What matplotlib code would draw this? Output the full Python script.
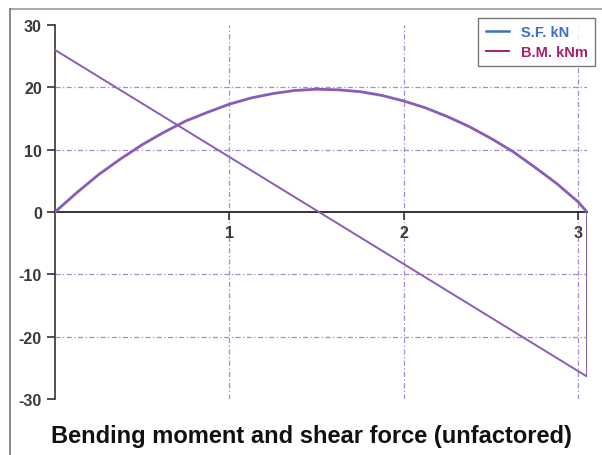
import numpy as np
import matplotlib.pyplot as plt
from matplotlib.lines import Line2D

# shear force (kN) - straight line then drop back to zero at the support
sf_x = [0.0, 3.05, 3.05]
sf_v = [26.0, -26.4, 0.0]

# bending moment (kNm)
bm_x = [0.0, 0.125, 0.25, 0.375, 0.5, 0.625, 0.75, 0.875, 1.0, 1.125, 1.25, 1.375,
        1.5, 1.625, 1.75, 1.875, 2.0, 2.125, 2.25, 2.375, 2.5, 2.625, 2.75, 2.875,
        3.0, 3.05]
bm_v = [0.0, 3.1, 6.0, 8.5, 10.8, 12.8, 14.6, 16.0, 17.3, 18.3, 19.0, 19.5,
        19.7, 19.6, 19.3, 18.7, 17.8, 16.7, 15.3, 13.7, 11.8, 9.7, 7.2, 4.6,
        1.6, 0.0]

xticks = [1, 2, 3]
yticks = [-30, -20, -10, 0, 10, 20, 30]
grid_x = [1, 2, 3]
grid_y = [-20, -10, 10, 20]

line_col = '#8a5cb8'
grid_col = '#a58ad0'

plt.rcParams['font.family'] = ['Liberation Sans', 'DejaVu Sans']

fig = plt.figure(figsize=(6.02, 4.56), dpi=100)
ax = fig.add_axes([55/602, 1-400/456, 532/602, 374/456])

for gx in grid_x:
    ax.axvline(gx, color=grid_col, lw=0.9, ls=(0, (4, 2, 1, 2)), zorder=1)
for gy in grid_y:
    ax.axhline(gy, color=grid_col, lw=0.9, ls=(0, (4, 2, 1, 2)), zorder=1)

ax.plot(bm_x, bm_v, color=line_col, lw=2.0, zorder=3)
ax.plot(sf_x, sf_v, color=line_col, lw=1.4, zorder=3)

ax.set_xlim(0, 3.05)
ax.set_ylim(-30, 30)
ax.spines['top'].set_visible(False)
ax.spines['right'].set_visible(False)
ax.spines['bottom'].set_position(('data', 0))
ax.spines['bottom'].set_color('#333333')
ax.spines['left'].set_color('#333333')
ax.spines['bottom'].set_linewidth(1.4)
ax.spines['left'].set_linewidth(1.2)

ax.set_xticks(xticks)
ax.set_xticklabels([str(t) for t in xticks])
ax.set_yticks(yticks)
ax.set_yticklabels([str(t) for t in yticks])
ax.tick_params(axis='both', labelsize=11.5, colors='#333333', length=6, width=1.2)
for lab in ax.get_yticklabels() + ax.get_xticklabels():
    lab.set_color('#3a3a3a')
    lab.set_fontweight('bold')

handles = [Line2D([], [], color='#3a6fc4', lw=1.8),
           Line2D([], [], color='#a8206a', lw=1.4)]
leg = fig.legend(handles, ['S.F. kN', 'B.M. kNm'], loc='upper right',
                 bbox_to_anchor=(1.0, 0.975), frameon=True, fancybox=False,
                 edgecolor='#555555', fontsize=10.5, handlelength=1.6,
                 borderpad=0.5, labelspacing=0.4)
leg.get_frame().set_linewidth(1.0)
for txt, c in zip(leg.get_texts(), ['#3a6fc4', '#a8206a']):
    txt.set_color(c)
    txt.set_fontweight('bold')

fig.text(0.517, 1-437/456, 'Bending moment and shear force (unfactored)',
         ha='center', va='center', fontsize=17, fontweight='bold', color='#111111')

# scan frame
fig.add_artist(Line2D([10/602, 1], [1-10/456, 1-10/456], color='#999999', lw=1.2))
fig.add_artist(Line2D([10/602, 10/602], [0, 1-10/456], color='#777777', lw=1.2))

fig.savefig('out.png', dpi=100)
